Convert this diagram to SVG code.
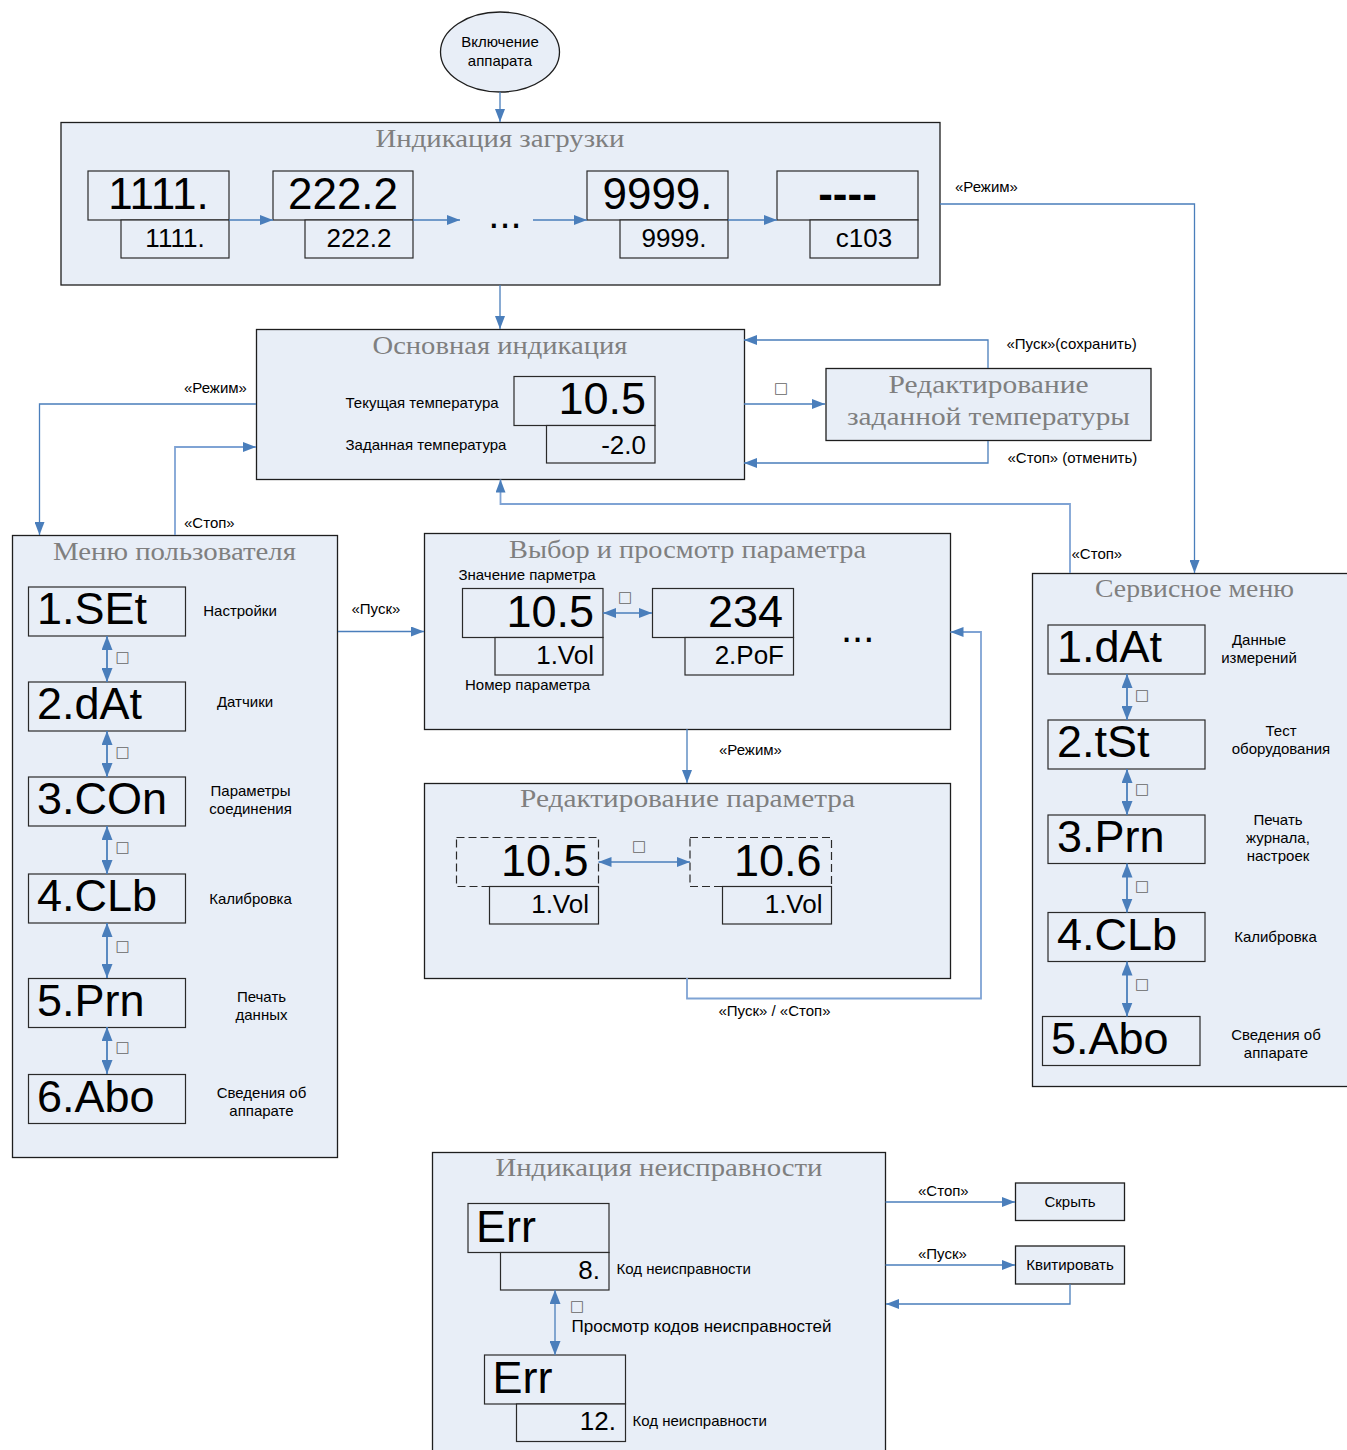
<svg xmlns="http://www.w3.org/2000/svg" width="1347" height="1450" viewBox="0 0 1347 1450">
<style>
.box{fill:#e8eef7;stroke:#1e1e1e;stroke-width:1.3}
.d{fill:#e8eef7;stroke:#2a2a2a;stroke-width:1.2}
.dd{fill:#e8eef7;stroke:#2a2a2a;stroke-width:1.2;stroke-dasharray:8 4}
.t{font-family:"Liberation Serif","Times New Roman",serif;font-size:26px;fill:#7f7f7f;text-anchor:middle}
.L{font-family:"Liberation Sans",Arial,sans-serif;font-size:45px;fill:#000}
.M{font-family:"Liberation Sans",Arial,sans-serif;font-size:26px;fill:#000}
.s{font-family:"Liberation Sans",Arial,sans-serif;font-size:15px;fill:#000}
.c{text-anchor:middle}
.e{text-anchor:end}
.q{font-family:"DejaVu Sans",sans-serif;font-size:15px;fill:#666;text-anchor:middle}
.cn{fill:none;stroke:#4a7ebb;stroke-width:1.3}
.cl{fill:none;stroke:#7fa3d4;stroke-width:1.8}
.dbl{fill:none;stroke:#4a7ebb;stroke-width:1.8}
</style>
<defs>
<marker id="ah" viewBox="0 0 13 10" refX="13" refY="5" markerWidth="13" markerHeight="10" markerUnits="userSpaceOnUse" orient="auto-start-reverse">
<path d="M0,0 L13,5 L0,10 z" fill="#4a7ebb"/>
</marker>
<marker id="ah2" viewBox="0 0 14 11" refX="14" refY="5.5" markerWidth="14" markerHeight="11" markerUnits="userSpaceOnUse" orient="auto-start-reverse">
<path d="M0,0 L14,5.5 L0,11 z" fill="#4a7ebb"/>
</marker>
</defs>

<g id="start">
<ellipse cx="500" cy="52" rx="59.5" ry="40" class="box"/>
<text class="s c" x="500" y="47">Включение</text>
<text class="s c" x="500" y="66">аппарата</text>
</g>

<g id="loading">
<rect class="box" x="61" y="122.5" width="879" height="162.5"/>
<text class="t" x="500" y="146.5" textLength="249" lengthAdjust="spacingAndGlyphs">Индикация загрузки</text>
<rect class="d" x="88" y="171" width="141" height="49"/>
<rect class="d" x="121" y="220" width="108" height="38"/>
<text class="L c" x="158.5" y="209" style="font-size:44px">1111.</text>
<text class="M c" x="175" y="247">1111.</text>
<rect class="d" x="273" y="171" width="140" height="49"/>
<rect class="d" x="305" y="220" width="108" height="38"/>
<text class="L c" x="343" y="209" style="font-size:44px">222.2</text>
<text class="M c" x="359" y="247">222.2</text>
<text class="L c" x="505" y="228" style="font-size:40px">...</text>
<rect class="d" x="587" y="171" width="141" height="49"/>
<rect class="d" x="620" y="220" width="108" height="38"/>
<text class="L c" x="657.5" y="209" style="font-size:44px">9999.</text>
<text class="M c" x="674" y="247">9999.</text>
<rect class="d" x="777" y="171" width="141" height="49"/>
<rect class="d" x="810" y="220" width="108" height="38"/>
<text class="L c" x="847.5" y="209" style="font-size:44px;font-weight:bold">----</text>
<text class="M c" x="864" y="247">c103</text>
</g>

<g id="main">
<rect class="box" x="256.5" y="329.5" width="488" height="150"/>
<text class="t" x="500" y="353.5" textLength="255" lengthAdjust="spacingAndGlyphs">Основная индикация</text>
<text class="s" x="345.5" y="408">Текущая температура</text>
<text class="s" x="345.5" y="450">Заданная температура</text>
<rect class="d" x="514" y="376.5" width="141" height="49"/>
<rect class="d" x="546.5" y="425.5" width="108.5" height="37.5"/>
<text class="L e" x="646" y="414">10.5</text>
<text class="M e" x="646" y="454">-2.0</text>
</g>

<g id="edit-setpoint">
<rect class="box" x="826" y="368.5" width="325" height="72"/>
<text class="t" x="988.5" y="393" textLength="200" lengthAdjust="spacingAndGlyphs">Редактирование</text>
<text class="t" x="988.5" y="424.5" textLength="283" lengthAdjust="spacingAndGlyphs">заданной температуры</text>
</g>

<g id="user-menu">
<rect class="box" x="12.5" y="535.5" width="325" height="622"/>
<text class="t" x="174.5" y="560" textLength="243" lengthAdjust="spacingAndGlyphs">Меню пользователя</text>
<rect class="d" x="28.5" y="587" width="157" height="49"/>
<text class="L" x="37" y="624">1.SEt</text>
<text class="s c" x="240" y="616">Настройки</text>
<rect class="d" x="28.5" y="682" width="157" height="49"/>
<text class="L" x="37" y="719">2.dAt</text>
<text class="s c" x="245" y="707">Датчики</text>
<rect class="d" x="28.5" y="777" width="157" height="49"/>
<text class="L" x="37" y="814">3.COn</text>
<text class="s c" x="250.5" y="796">Параметры</text>
<text class="s c" x="250.5" y="814">соединения</text>
<rect class="d" x="28.5" y="874" width="157" height="49"/>
<text class="L" x="37" y="911">4.CLb</text>
<text class="s c" x="250.5" y="904">Калибровка</text>
<rect class="d" x="28.5" y="978.5" width="157" height="49"/>
<text class="L" x="37" y="1015.5">5.Prn</text>
<text class="s c" x="261.5" y="1002">Печать</text>
<text class="s c" x="261.5" y="1020">данных</text>
<rect class="d" x="28.5" y="1074.5" width="157" height="49"/>
<text class="L" x="37" y="1111.5">6.Abo</text>
<text class="s c" x="261.5" y="1098">Сведения об</text>
<text class="s c" x="261.5" y="1116">аппарате</text>
</g>

<g id="param-select">
<rect class="box" x="424.5" y="533.5" width="526" height="196"/>
<text class="t" x="687.5" y="558" textLength="357" lengthAdjust="spacingAndGlyphs">Выбор и просмотр параметра</text>
<text class="s" x="458.5" y="580">Значение парметра</text>
<rect class="d" x="462.5" y="588.5" width="140.5" height="49"/>
<rect class="d" x="495" y="637.5" width="108" height="37.5"/>
<text class="L e" x="594" y="627">10.5</text>
<text class="M e" x="594" y="664">1.Vol</text>
<text class="s" x="465" y="689.5">Номер параметра</text>
<rect class="d" x="652.5" y="588.5" width="141" height="49"/>
<rect class="d" x="685" y="637.5" width="108.5" height="37.5"/>
<text class="L e" x="783" y="627">234</text>
<text class="M e" x="784" y="664">2.PoF</text>
<text class="L" x="841" y="642" style="font-size:40px">...</text>
</g>

<g id="param-edit">
<rect class="box" x="424.5" y="783.5" width="526" height="195"/>
<text class="t" x="687.5" y="807" textLength="335" lengthAdjust="spacingAndGlyphs">Редактирование параметра</text>
<rect class="dd" x="456.5" y="837.5" width="142" height="49"/>
<rect class="d" x="489.5" y="886.5" width="109" height="37.5"/>
<text class="L e" x="588.5" y="876">10.5</text>
<text class="M e" x="589" y="913">1.Vol</text>
<rect class="dd" x="690" y="837.5" width="141.5" height="49"/>
<rect class="d" x="722.5" y="886.5" width="109" height="37.5"/>
<text class="L e" x="821.5" y="876">10.6</text>
<text class="M e" x="822.5" y="913">1.Vol</text>
</g>

<g id="service-menu">
<rect class="box" x="1032.5" y="573.5" width="320" height="513"/>
<text class="t" x="1194.5" y="597" textLength="199" lengthAdjust="spacingAndGlyphs">Сервисное меню</text>
<rect class="d" x="1048" y="625" width="157" height="49"/>
<text class="L" x="1057" y="662">1.dAt</text>
<text class="s c" x="1259" y="645">Данные</text>
<text class="s c" x="1259" y="663">измерений</text>
<rect class="d" x="1048" y="720" width="157" height="49"/>
<text class="L" x="1057" y="757">2.tSt</text>
<text class="s c" x="1281" y="736">Тест</text>
<text class="s c" x="1281" y="754">оборудования</text>
<rect class="d" x="1048" y="815" width="157" height="48.5"/>
<text class="L" x="1057" y="852">3.Prn</text>
<text class="s c" x="1278" y="825">Печать</text>
<text class="s c" x="1278" y="843">журнала,</text>
<text class="s c" x="1278" y="861">настроек</text>
<rect class="d" x="1048" y="912.5" width="157" height="49"/>
<text class="L" x="1057" y="949.5">4.CLb</text>
<text class="s c" x="1275.5" y="942">Калибровка</text>
<rect class="d" x="1042.5" y="1016.5" width="157.5" height="49"/>
<text class="L" x="1051" y="1053.5">5.Abo</text>
<text class="s c" x="1276" y="1040">Сведения об</text>
<text class="s c" x="1276" y="1058">аппарате</text>
</g>

<g id="fault">
<rect class="box" x="432.5" y="1152.5" width="453" height="310"/>
<text class="t" x="659" y="1176" textLength="327" lengthAdjust="spacingAndGlyphs">Индикация неисправности</text>
<rect class="d" x="468" y="1203.5" width="141" height="49"/>
<rect class="d" x="500.5" y="1252.5" width="108.5" height="37.5"/>
<text class="L" x="476" y="1241.5">Err</text>
<text class="M e" x="600" y="1278.5">8.</text>
<text class="s" x="616.5" y="1274">Код неисправности</text>
<text class="s" x="571.5" y="1332" style="font-size:17px">Просмотр кодов неисправностей</text>
<rect class="d" x="484.5" y="1355" width="141" height="49"/>
<rect class="d" x="516.5" y="1404" width="109" height="37.5"/>
<text class="L" x="492.5" y="1392.5">Err</text>
<text class="M e" x="616" y="1430">12.</text>
<text class="s" x="632.5" y="1426">Код неисправности</text>
</g>

<g id="hide">
<rect class="box" x="1015.5" y="1183" width="109" height="37.5"/>
<text class="s c" x="1070" y="1207">Скрыть</text>
</g>

<g id="ack">
<rect class="box" x="1015.5" y="1246" width="109" height="38"/>
<text class="s c" x="1070" y="1270">Квитировать</text>
</g>

<g id="connectors">
<path class="cn" d="M500,92 V122" marker-end="url(#ah)"/>
<path class="cn" d="M229,220 H273" marker-end="url(#ah)"/>
<path class="cn" d="M413,220 H460" marker-end="url(#ah)"/>
<path class="cn" d="M533,220 H587" marker-end="url(#ah)"/>
<path class="cn" d="M728,220 H777" marker-end="url(#ah)"/>
<path class="cn" d="M940,204 H1194.5 V573" marker-end="url(#ah)"/>
<path class="cn" d="M500,285 V329" marker-end="url(#ah)"/>
<path class="cn" d="M256,404 H39.5 V535" marker-end="url(#ah)"/>
<path class="cl" d="M175,535 V447 H256" marker-end="url(#ah)"/>
<path class="cn" d="M744,404 H825" marker-end="url(#ah)"/>
<path class="cn" d="M988,368 V340 H744" marker-end="url(#ah)"/>
<path class="cn" d="M988,441 V463 H744" marker-end="url(#ah)"/>
<path class="cl" d="M1070,573 V504 H500.5 V479.5" marker-end="url(#ah)"/>
<path class="cn" d="M338,631.5 H424" marker-end="url(#ah)"/>
<path class="cn" d="M603,613 H652" marker-start="url(#ah)" marker-end="url(#ah)"/>
<path class="cn" d="M687,729 V783" marker-end="url(#ah)"/>
<path class="cn" d="M598.5,862 H690" marker-start="url(#ah)" marker-end="url(#ah)"/>
<path class="cl" d="M687,978 V998.5 H981 V632 H950.5" marker-end="url(#ah)"/>
<path class="dbl" d="M107,636 V682" marker-start="url(#ah2)" marker-end="url(#ah2)"/>
<path class="dbl" d="M107,731 V777" marker-start="url(#ah2)" marker-end="url(#ah2)"/>
<path class="dbl" d="M107,826 V874" marker-start="url(#ah2)" marker-end="url(#ah2)"/>
<path class="dbl" d="M107,923 V978" marker-start="url(#ah2)" marker-end="url(#ah2)"/>
<path class="dbl" d="M107,1027 V1074" marker-start="url(#ah2)" marker-end="url(#ah2)"/>
<path class="dbl" d="M1127,674 V720" marker-start="url(#ah2)" marker-end="url(#ah2)"/>
<path class="dbl" d="M1127,769 V815" marker-start="url(#ah2)" marker-end="url(#ah2)"/>
<path class="dbl" d="M1127,863.5 V912.5" marker-start="url(#ah2)" marker-end="url(#ah2)"/>
<path class="dbl" d="M1127,961.5 V1016.5" marker-start="url(#ah2)" marker-end="url(#ah2)"/>
<path class="cn" d="M555,1290 V1355" marker-start="url(#ah2)" marker-end="url(#ah2)"/>
<path class="cn" d="M885.5,1202 H1015" marker-end="url(#ah)"/>
<path class="cn" d="M885.5,1265 H1015" marker-end="url(#ah)"/>
<path class="cn" d="M1070,1284 V1304 H886" marker-end="url(#ah)"/>
</g>

<g id="connector-labels">
<text class="s" x="955" y="192">«Режим»</text>
<text class="s" x="184" y="393">«Режим»</text>
<text class="s" x="184" y="528">«Стоп»</text>
<text class="s" x="1006.5" y="349">«Пуск»(сохранить)</text>
<text class="s" x="1007.5" y="463">«Стоп» (отменить)</text>
<text class="s" x="1071.5" y="559">«Стоп»</text>
<text class="s" x="351.5" y="614">«Пуск»</text>
<text class="s" x="719" y="755">«Режим»</text>
<text class="s c" x="774.5" y="1016">«Пуск» / «Стоп»</text>
<text class="s" x="918" y="1196">«Стоп»</text>
<text class="s" x="918" y="1259">«Пуск»</text>
<text class="q" x="781" y="393">□</text>
<text class="q" x="625" y="602">□</text>
<text class="q" x="639" y="851">□</text>
<text class="q" x="122.5" y="662">□</text>
<text class="q" x="122.5" y="757">□</text>
<text class="q" x="122.5" y="852">□</text>
<text class="q" x="122.5" y="951">□</text>
<text class="q" x="122.5" y="1052">□</text>
<text class="q" x="1142" y="700">□</text>
<text class="q" x="1142" y="794">□</text>
<text class="q" x="1142" y="891">□</text>
<text class="q" x="1142" y="989">□</text>
<text class="q" x="577" y="1311">□</text>
</g>
</svg>
